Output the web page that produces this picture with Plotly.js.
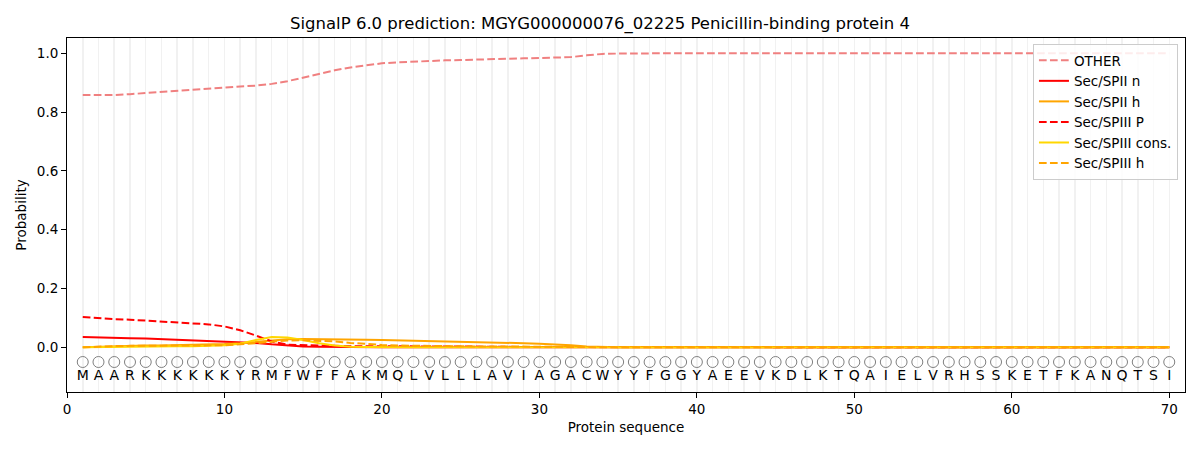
<!DOCTYPE html>
<html>
<head>
<meta charset="utf-8">
<script src="https://cdn.plot.ly/plotly-3.0.1.min.js"></script>
<style>
  html, body { margin: 0; padding: 0; background: #fff; }
  #chart { width: 1200px; height: 450px; }
</style>
</head>
<body>
<div id="chart"></div>
<script>
// residue sequence shown under the curves
const residues = "MAARKKKKKKYRMFWFFAKMQLVLLLAVIAGACWYYFGGYAEEVKDLKTQAIELVRHSSKETFKANQTSI".split("");
const positions = residues.map((_, i) => i + 1);

const otherProb = [
  0.858, 0.857, 0.858, 0.861, 0.865, 0.869, 0.873, 0.877, 0.881, 0.883,
  0.887, 0.890, 0.896, 0.905, 0.917, 0.931, 0.942, 0.952, 0.960, 0.966,
  0.969, 0.972, 0.975, 0.976, 0.977, 0.979, 0.981, 0.982, 0.983, 0.984,
  0.985, 0.987, 0.993, 0.998, 0.999, 1.0, 1.0, 1.0, 1.0, 1.0,
  1.0, 1.0, 1.0, 1.0, 1.0, 1.0, 1.0, 1.0, 1.0, 1.0,
  1.0, 1.0, 1.0, 1.0, 1.0, 1.0, 1.0, 1.0, 1.0, 1.0,
  1.0, 1.0, 1.0, 1.0, 1.0, 1.0, 1.0, 1.0, 1.0, 1.0
];
const spiiN = [
  0.035, 0.033, 0.032, 0.031, 0.030, 0.028, 0.027, 0.025, 0.023, 0.021,
  0.019, 0.015, 0.010, 0.006, 0.003, 0.002, 0.001, 0, 0, 0,
  0, 0, 0, 0, 0, 0, 0, 0, 0, 0,
  0, 0, 0, 0, 0, 0, 0, 0, 0, 0,
  0, 0, 0, 0, 0, 0, 0, 0, 0, 0,
  0, 0, 0, 0, 0, 0, 0, 0, 0, 0,
  0, 0, 0, 0, 0, 0, 0, 0, 0, 0
];
const spiiH = [
  0.0, 0.002, 0.004, 0.005, 0.006, 0.006, 0.007, 0.008, 0.009, 0.011,
  0.014, 0.019, 0.024, 0.027, 0.028, 0.028, 0.028, 0.027, 0.026, 0.025,
  0.024, 0.023, 0.022, 0.021, 0.020, 0.019, 0.018, 0.016, 0.014, 0.012,
  0.010, 0.007, 0.003, 0.001, 0, 0, 0, 0, 0, 0,
  0, 0, 0, 0, 0, 0, 0, 0, 0, 0,
  0, 0, 0, 0, 0, 0, 0, 0, 0, 0,
  0, 0, 0, 0, 0, 0, 0, 0, 0, 0
];
const spiiiP = [
  0.103, 0.099, 0.096, 0.094, 0.091, 0.088, 0.085, 0.082, 0.078, 0.071,
  0.058, 0.040, 0.020, 0.009, 0.007, 0.006, 0.005, 0.004, 0.004, 0.003,
  0.003, 0.003, 0.003, 0.002, 0.002, 0.002, 0.002, 0.002, 0.001, 0.001,
  0.001, 0.001, 0, 0, 0, 0, 0, 0, 0, 0,
  0, 0, 0, 0, 0, 0, 0, 0, 0, 0,
  0, 0, 0, 0, 0, 0, 0, 0, 0, 0,
  0, 0, 0, 0, 0, 0, 0, 0, 0, 0
];
const spiiiCons = [
  0.0, 0.001, 0.002, 0.002, 0.003, 0.003, 0.004, 0.004, 0.005, 0.007,
  0.012, 0.025, 0.035, 0.033, 0.025, 0.014, 0.006, 0.002, 0.001, 0,
  0, 0, 0, 0, 0, 0, 0, 0, 0, 0,
  0, 0, 0, 0, 0, 0, 0, 0, 0, 0,
  0, 0, 0, 0, 0, 0, 0, 0, 0, 0,
  0, 0, 0, 0, 0, 0, 0, 0, 0, 0,
  0, 0, 0, 0, 0, 0, 0, 0, 0, 0
];
const spiiiH = [
  0.0, 0.003, 0.004, 0.005, 0.005, 0.005, 0.005, 0.005, 0.006, 0.007,
  0.010, 0.015, 0.020, 0.023, 0.024, 0.023, 0.020, 0.015, 0.011, 0.008,
  0.006, 0.005, 0.004, 0.003, 0.003, 0.003, 0.003, 0.003, 0.003, 0.002,
  0.002, 0.002, 0.001, 0, 0, 0, 0, 0, 0, 0,
  0, 0, 0, 0, 0, 0, 0, 0, 0, 0,
  0, 0, 0, 0, 0, 0, 0, 0, 0, 0,
  0, 0, 0, 0, 0, 0, 0, 0, 0, 0
];

const FONT = "DejaVu Sans, sans-serif";
const dash = "7.7px,3.3px";
const GRID = '#f1f1f1';

function line(name, y, color, dashed) {
  return {
    x: positions, y: y, name: name,
    type: 'scatter', mode: 'lines',
    line: { color: color, width: 2, dash: dashed ? dash : 'solid' }
  };
}

const traces = [
  line("OTHER", otherProb, "#f08080", true),
  line("Sec/SPII n", spiiN, "red", false),
  line("Sec/SPII h", spiiH, "orange", false),
  line("Sec/SPIII P", spiiiP, "red", true),
  line("Sec/SPIII cons.", spiiiCons, "gold", false),
  line("Sec/SPIII h", spiiiH, "orange", true),
  {
    x: positions, y: positions.map(() => -0.05),
    type: 'scatter', mode: 'markers', showlegend: false,
    marker: { symbol: 'circle-open', size: 11, color: 'gray', line: { width: 1, color: 'gray' } }
  },
  {
    x: positions, y: positions.map(() => -0.1),
    type: 'scatter', mode: 'text', showlegend: false,
    text: residues, textposition: 'middle center',
    textfont: { family: FONT, size: 14, color: 'black' }
  }
];

const layout = {
  width: 1200, height: 450,
  margin: { l: 67, r: 15, t: 38, b: 58 },
  paper_bgcolor: 'white', plot_bgcolor: 'white',
  font: { family: FONT, size: 14, color: 'black' },
  title: {
    text: "SignalP 6.0 prediction: MGYG000000076_02225 Penicillin-binding protein 4",
    font: { family: FONT, size: 16.5, color: 'black' },
    x: 0.5, xanchor: 'center', yref: 'container', y: 0.949, yanchor: 'middle'
  },
  xaxis: {
    range: [0, 71], tickmode: 'linear', tick0: 0, dtick: 10,
    showgrid: true, gridcolor: GRID, gridwidth: 1.5,
    minor: { dtick: 1, tick0: 0, showgrid: true, gridcolor: GRID, gridwidth: 1.5 },
    zeroline: false, showline: true, linecolor: 'black', linewidth: 1, mirror: true,
    ticks: 'outside', ticklen: 5, tickcolor: 'black',
    tickfont: { family: FONT, size: 13.5 },
    title: { text: "Protein sequence", font: { family: FONT, size: 13.5 }, standoff: 6 }
  },
  yaxis: {
    range: [-0.152, 1.052], tickmode: 'array',
    tickvals: [0, 0.2, 0.4, 0.6, 0.8, 1.0], tickformat: '.1f',
    showgrid: false, zeroline: false,
    showline: true, linecolor: 'black', linewidth: 1, mirror: true,
    ticks: 'outside', ticklen: 5, tickcolor: 'black',
    tickfont: { family: FONT, size: 13.5 },
    title: { text: "Probability", font: { family: FONT, size: 13.5 }, standoff: 7 }
  },
  legend: {
    x: 0.9937, xanchor: 'right', y: 0.983, yanchor: 'top',
    bgcolor: 'rgba(255,255,255,0.85)', bordercolor: '#cccccc', borderwidth: 1,
    font: { family: FONT, size: 13.5 }, tracegroupgap: 0
  }
};

Plotly.newPlot('chart', traces, layout, { staticPlot: true });
</script>
</body>
</html>
